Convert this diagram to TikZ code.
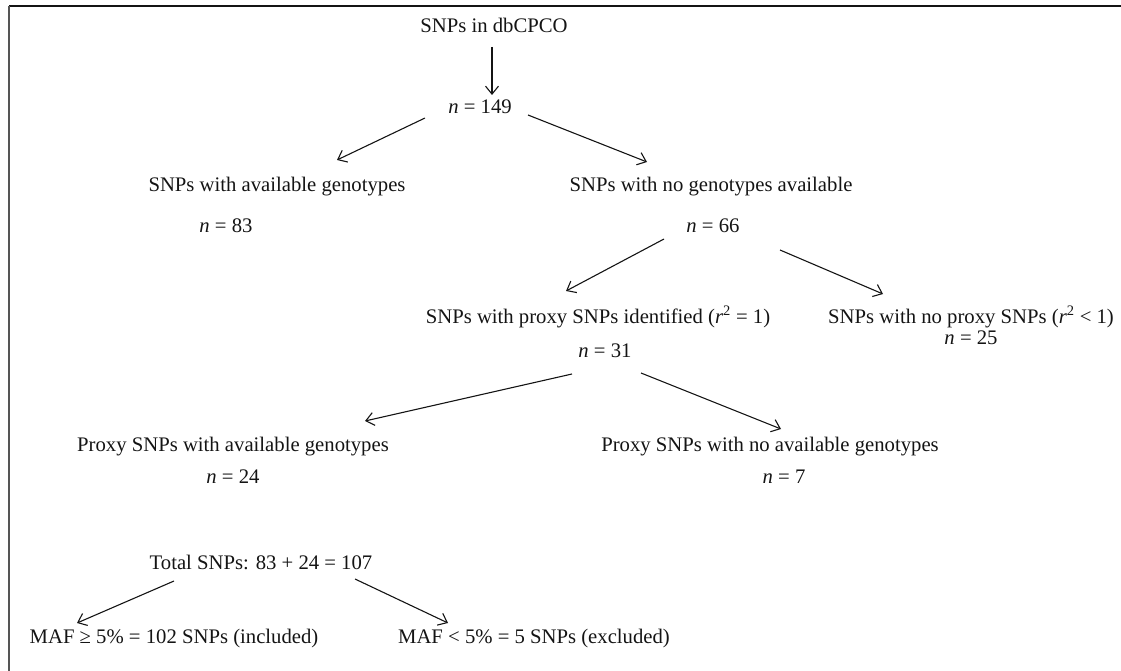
\documentclass[tikz,border=0pt]{standalone}
\usepackage{fontspec}
\setmainfont{Liberation Serif}
\usepackage{tikz}
\usetikzlibrary{calc,arrows.meta}
\definecolor{flowink}{RGB}{20,20,20}
\definecolor{framegray}{RGB}{85,85,85}

\begin{document}
\begin{tikzpicture}[x=1pt, y=-1pt,
    lbl/.style={inner sep=0pt, text=flowink, font=\fontsize{20.7}{24}\selectfont},
    flow/.style={draw=flowink, line width=1.1pt,
                 -{Straight Barb[length=8pt, width=13pt]}}]
  \useasboundingbox (0,0) rectangle (1121,671);
  % frame (only top and left edges show)
  \draw[line width=1.4pt, draw=flowink] (9,6) -- (1130,6);
  \draw[line width=2pt, draw=framegray] (9,6) -- (9,680);
  % level 1
  \node[lbl] (db)   at (494,25)  {SNPs in dbCPCO};
  \node[lbl] (n149) at (480,107) {\textit{n} = 149};
  % level 2
  \node[lbl] (avail)   at (277,187) {SNPs with available genotypes};
  \node[lbl] (n83)     at (226,226) {\textit{n} = 83};
  \node[lbl] (noavail) at (711,187) {SNPs with no genotypes available};
  \node[lbl] (n66)     at (713,226) {\textit{n} = 66};
  % level 3
  \node[lbl] (proxy)   at (598,317) {SNPs with proxy SNPs identified (\textit{r}\textsuperscript{2} = 1)};
  \node[lbl] (n31)     at (605,351) {\textit{n} = 31};
  \node[lbl] (noproxy) at (971,317) {SNPs with no proxy SNPs (\textit{r}\textsuperscript{2} < 1)};
  \node[lbl] (n25)     at (971,338) {\textit{n} = 25};
  % level 4
  \node[lbl] (pavail)   at (233,447) {Proxy SNPs with available genotypes};
  \node[lbl] (n24)      at (233,477) {\textit{n} = 24};
  \node[lbl] (pnoavail) at (770,447) {Proxy SNPs with no available genotypes};
  \node[lbl] (n7)       at (784,477) {\textit{n} = 7};
  % totals
  \node[lbl] (total) at (261,562) {Total SNPs: 83 + 24 = 107};
  \node[lbl] (incl)  at (174,639) {MAF ≥ 5\% = 102 SNPs (included)};
  \node[lbl] (excl)  at (534,639) {MAF < 5\% = 5 SNPs (excluded)};
  % arrows
  \draw[flow] ($(db)+(-2,22)$)     -- ($(n149)+(12,-12)$);
  \draw[flow] ($(n149)+(-55,11)$)  -- ($(avail)+(60,-27)$);
  \draw[flow] ($(n149)+(48,8)$)    -- ($(noavail)+(-64,-25)$);
  \draw[flow] ($(n66)+(-49,13)$)   -- ($(proxy)+(-32,-26)$);
  \draw[flow] ($(n66)+(67,24)$)    -- ($(noproxy)+(-88,-23)$);
  \draw[flow] ($(n31)+(-33,23)$)   -- ($(pavail)+(132,-26)$);
  \draw[flow] ($(n31)+(36,22)$)    -- ($(pnoavail)+(11,-18)$);
  \draw[flow] ($(total)+(-87,19)$) -- ($(incl)+(-97,-16)$);
  \draw[flow] ($(total)+(94,17)$)  -- ($(excl)+(-86,-16)$);
\end{tikzpicture}
\end{document}
